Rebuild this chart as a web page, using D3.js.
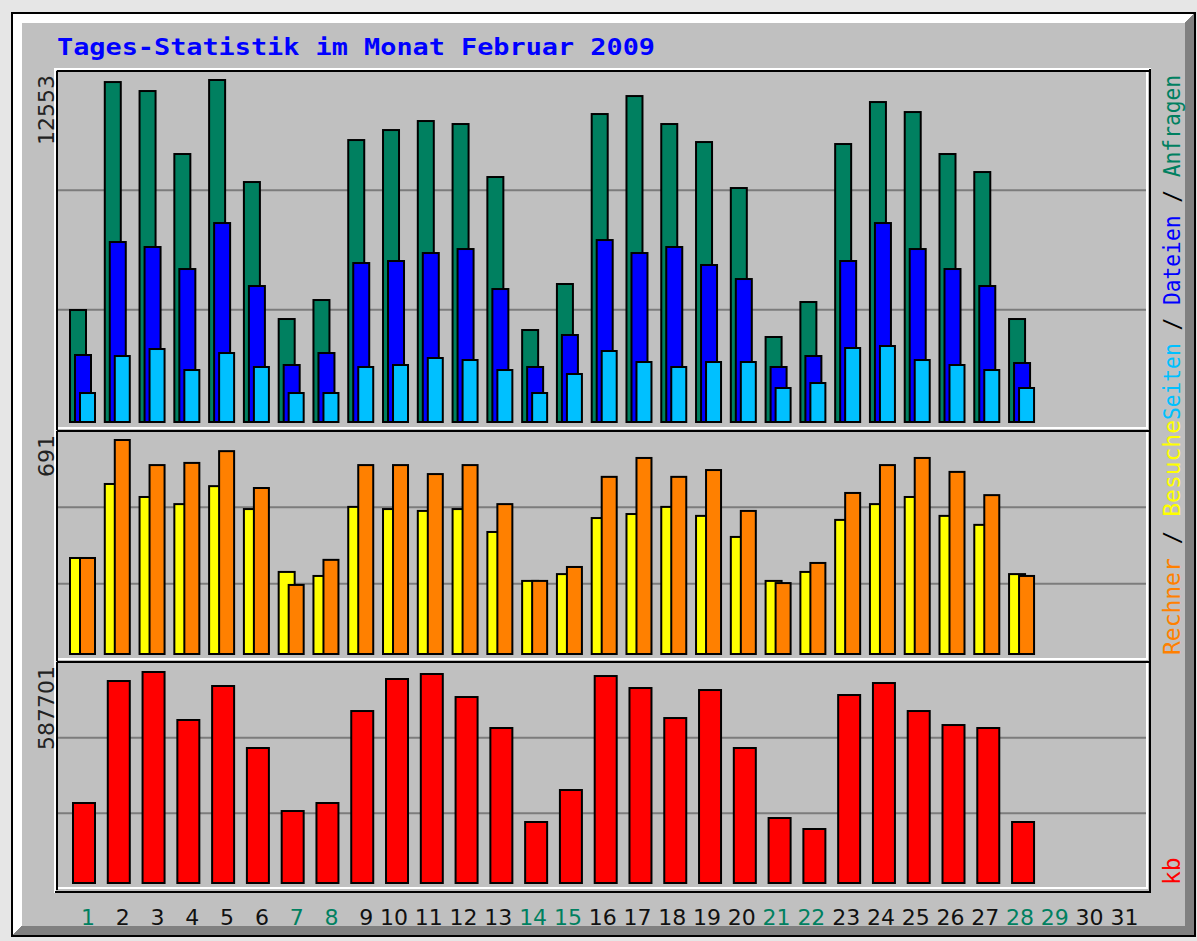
<!DOCTYPE html>
<html>
<head>
<meta charset="utf-8">
<script src="https://cdn.jsdelivr.net/npm/d3@7"></script>
<style>
  body { margin: 0; background: #e6e6e6; }
  svg { display: block; }
</style>
</head>
<body>
<svg id="chart" width="1197" height="941"></svg>
<script>
// daily values, Februar 2009 (days 1..28)
var days = [1,2,3,4,5,6,7,8,9,10,11,12,13,14,15,16,17,18,19,20,21,22,23,24,25,26,27,28,29,30,31];
var weekend = [1,7,8,14,15,21,22,28,29];

var anfragen = [4110,12478,12148,9836,12553,8808,3780,4477,10349,10716,11047,10937,8992,3376,
                5065,11304,11964,10937,10276,8588,3120,4404,10203,11744,11377,9836,9175,3780];
var dateien  = [2459,6606,6423,5615,7303,4991,2092,2532,5835,5909,6202,6349,4881,2019,
                3193,6679,6202,6423,5762,5248,2019,2422,5909,7303,6349,5615,4991,2165];
var seiten   = [1064,2422,2679,1908,2532,2019,1064,1064,2019,2092,2349,2275,1908,1064,
                1762,2606,2202,2019,2202,2202,1248,1431,2716,2789,2275,2092,1908,1248];
var besuche  = [310,549,507,484,542,468,265,252,475,468,462,468,394,236,
                258,439,452,475,446,378,236,265,433,484,507,446,417,258];
var rechner  = [310,691,610,617,655,536,223,304,610,610,581,610,484,236,
                281,572,633,572,594,462,229,294,520,610,633,588,513,252];
var kb       = [222800,562600,587701,454000,548700,376000,200500,222800,479000,568200,582100,518000,431700,169900,
                259000,576500,543100,459500,537500,376000,181000,150400,523600,557000,479000,440000,431700,169900];

var svg = d3.select("#chart"),
    width = +svg.attr("width"),
    height = +svg.attr("height");

// outer frame with bevel
svg.append("rect").attr("x", 0).attr("y", 0).attr("width", width).attr("height", height).attr("fill", "#e6e6e6");
svg.append("rect").attr("x", 11).attr("y", 12).attr("width", 1185).attr("height", 925).attr("fill", "#000");
svg.append("polygon").attr("points", "13,14 1194,14 1185,23 22,23 22,926 13,935").attr("fill", "#fff");
svg.append("polygon").attr("points", "1194,14 1194,935 13,935 22,926 1185,926 1185,23").attr("fill", "#808080");
svg.append("rect").attr("x", 22).attr("y", 23).attr("width", 1163).attr("height", 903).attr("fill", "#c0c0c0");

svg.append("text")
    .attr("x", 57).attr("y", 55)
    .attr("textLength", 598).attr("lengthAdjust", "spacingAndGlyphs")
    .style("font-family", "'DejaVu Sans Mono', monospace")
    .style("font-weight", "bold")
    .style("font-size", "23px")
    .attr("fill", "#0000ff")
    .text("Tages-Statistik im Monat Februar 2009");

var x = d3.scaleLinear().domain([1, 31]).range([69, 69 + 30 * 34.78]);

var panels = [
    {t: 71, b: 430, y: d3.scaleLinear().domain([0, d3.max(anfragen)]).range([422, 80])},
    {t: 431, b: 661, y: d3.scaleLinear().domain([0, d3.max(rechner)]).range([654, 440])},
    {t: 662, b: 890, y: d3.scaleLinear().domain([0, d3.max(kb)]).range([883, 672])}
];

// panel boxes and grid lines
panels.forEach(function(p) {
    var g = svg.append("g");
    var gy = d3.scaleLinear().domain([0, 3]).range([p.t, p.b - 1]);
    g.selectAll("line.grid")
        .data([1, 2])
        .enter().append("line")
        .attr("x1", 58).attr("x2", 1146)
        .attr("y1", function(d) { return gy(d); })
        .attr("y2", function(d) { return gy(d); })
        .attr("stroke", "#7c7c7c").attr("stroke-width", 2);
    g.append("line").attr("x1", 57).attr("x2", 1150).attr("y1", p.t).attr("y2", p.t).attr("stroke", "#000").attr("stroke-width", 2);
    g.append("line").attr("x1", 57).attr("x2", 57).attr("y1", p.t).attr("y2", p.b).attr("stroke", "#000").attr("stroke-width", 2);
    g.append("line").attr("x1", 58).attr("x2", 1148).attr("y1", p.b - 2).attr("y2", p.b - 2).attr("stroke", "#fff").attr("stroke-width", 2);
    g.append("line").attr("x1", 1147).attr("x2", 1147).attr("y1", p.t + 1).attr("y2", p.b - 1).attr("stroke", "#fff").attr("stroke-width", 2);
});
svg.append("line").attr("x1", 55).attr("x2", 55).attr("y1", 68).attr("y2", 893).attr("stroke", "#fff").attr("stroke-width", 2);
svg.append("line").attr("x1", 54).attr("x2", 1151).attr("y1", 69).attr("y2", 69).attr("stroke", "#fff").attr("stroke-width", 2);
svg.append("line").attr("x1", 1150).attr("x2", 1150).attr("y1", 69).attr("y2", 893).attr("stroke", "#000").attr("stroke-width", 2);
svg.append("line").attr("x1", 55).attr("x2", 1151).attr("y1", 892).attr("y2", 892).attr("stroke", "#000").attr("stroke-width", 2);

function bars(values, scale, offset, w, color) {
    svg.append("g").selectAll("rect")
        .data(values)
        .enter().append("rect")
        .attr("x", function(d, i) { return x(days[i]) + offset + 1; })
        .attr("y", function(d) { return scale(d); })
        .attr("width", w - 2)
        .attr("height", function(d) { return scale(0) - scale(d); })
        .attr("fill", color)
        .attr("stroke", "#000")
        .attr("stroke-width", 2);
}

bars(anfragen, panels[0].y, 0, 18, "#008060");
bars(dateien, panels[0].y, 5, 18, "#0000ff");
bars(seiten, panels[0].y, 10, 17, "#00c0ff");
bars(besuche, panels[1].y, 0, 18, "#ffff00");
bars(rechner, panels[1].y, 10, 17, "#ff8000");
bars(kb, panels[2].y, 3, 24, "#ff0000");

// max labels on the left
var maxLabels = [d3.max(anfragen), d3.max(rechner), d3.max(kb)];
svg.selectAll("text.max")
    .data(maxLabels)
    .enter().append("text")
    .attr("class", "max")
    .attr("transform", function(d, i) { return "translate(54," + (panels[i].t + 4) + ") rotate(-90)"; })
    .attr("text-anchor", "end")
    .style("font-family", "'DejaVu Sans', sans-serif")
    .style("font-size", "22px")
    .attr("fill", "#222")
    .text(function(d) { return d; });

// day labels
svg.selectAll("text.day")
    .data(days)
    .enter().append("text")
    .attr("class", "day")
    .attr("x", function(d) { return x(d) + 26; })
    .attr("y", 925)
    .attr("text-anchor", "end")
    .style("font-family", "'DejaVu Sans', sans-serif")
    .style("font-size", "22px")
    .attr("fill", function(d) { return weekend.indexOf(d) >= 0 ? "#008060" : "#111"; })
    .text(function(d) { return d; });

// legends on the right
function legend(parts, y, anchor, len) {
    var t = svg.append("text")
        .attr("transform", "translate(1180," + y + ") rotate(-90)")
        .attr("text-anchor", anchor)
        .style("font-family", "'DejaVu Sans Mono', monospace")
        .style("font-size", "23px");
    if (len) t.attr("textLength", len).attr("lengthAdjust", "spacingAndGlyphs");
    parts.forEach(function(p) {
        t.append("tspan").attr("fill", p[1]).text(p[0]);
    });
}
legend([["Seiten", "#00c0ff"], [" / ", "#000"], ["Dateien", "#0000ff"], [" / ", "#000"], ["Anfragen", "#008060"]], 75, "end", 345);
legend([["Rechner", "#ff8000"], [" / ", "#000"], ["Besuche", "#ffff00"]], 655, "start", 235);
legend([["kb", "#ff0000"]], 885, "start", 0);
</script>
</body>
</html>
